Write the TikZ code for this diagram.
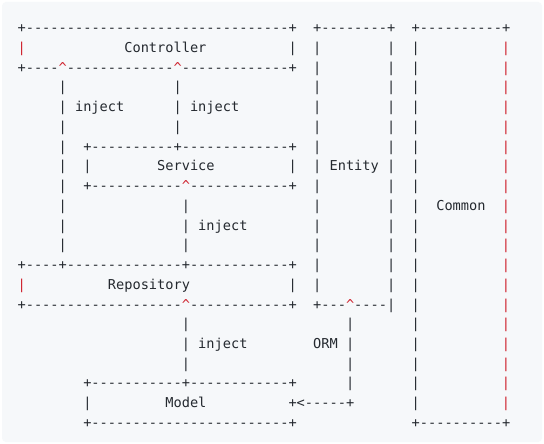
\documentclass[tikz,border=0pt]{standalone}
\usepackage{fontspec}
\newfontfamily\asciifont{DejaVu Sans Mono}[Ligatures=TeXOff]
\definecolor{ink}{HTML}{24292F}
\definecolor{hl}{HTML}{CF222E}
\definecolor{bg}{HTML}{F6F8FA}
\tikzset{txt/.style={anchor=base west,inner sep=0pt,outer sep=0pt,font=\asciifont\fontsize{13.64}{16}\selectfont}}
\newcommand\tok[5]{\node[txt,text=#1] (#2) at ({17.6+8.21*#3},{-32.8-19.73*#4}) {#5};}
\newcommand\caret{\textasciicircum}
\begin{document}
\begin{tikzpicture}[x=1pt,y=1pt]
\useasboundingbox (0,0) rectangle (544,-444);
\fill[white] (0,0) rectangle (544,-444);
\fill[bg,rounded corners=4pt] (2,-2) rectangle (542,-442);
% line 0
\tok{ink}{ctrlTop}{0}{0}{+--------------------------------+}
\tok{ink}{entTop}{36}{0}{+--------+}
\tok{ink}{comTop}{48}{0}{+----------+}
% line 1
\tok{hl}{ctrlL}{0}{1}{|}
\tok{ink}{ctrlLabel}{13}{1}{Controller}
\tok{ink}{ctrlR}{33}{1}{|}
% line 2
\tok{ink}{ctrlBa}{0}{2}{+----}
\tok{hl}{ctrlC1}{5}{2}{\caret}
\tok{ink}{ctrlBb}{6}{2}{-------------}
\tok{hl}{ctrlC2}{19}{2}{\caret}
\tok{ink}{ctrlBc}{20}{2}{-------------+}
% lines 3-11 left verticals
\foreach \k in {3,...,11} {\tok{ink}{injA\k}{5}{\k}{|}}
\foreach \k in {3,4,5} {\tok{ink}{injB\k}{19}{\k}{|}}
\tok{ink}{injAlabel}{7}{4}{inject}
\tok{ink}{injBlabel}{21}{4}{inject}
% Service box
\tok{ink}{svcTop}{8}{6}{+----------+-------------+}
\tok{ink}{svcL}{8}{7}{|}
\tok{ink}{svcLabel}{17}{7}{Service}
\tok{ink}{svcR}{33}{7}{|}
\tok{ink}{svcBa}{8}{8}{+-----------}
\tok{hl}{svcC}{20}{8}{\caret}
\tok{ink}{svcBb}{21}{8}{------------+}
\foreach \k in {9,10,11} {\tok{ink}{injC\k}{20}{\k}{|}}
\tok{ink}{injClabel}{22}{10}{inject}
% Repository box
\tok{ink}{repTop}{0}{12}{+----+--------------+------------+}
\tok{hl}{repL}{0}{13}{|}
\tok{ink}{repLabel}{11}{13}{Repository}
\tok{ink}{repR}{33}{13}{|}
\tok{ink}{repBa}{0}{14}{+-------------------}
\tok{hl}{repC}{20}{14}{\caret}
\tok{ink}{repBb}{21}{14}{------------+}
% Entity box
\foreach \k in {1,...,13} {\tok{ink}{entL\k}{36}{\k}{|}\tok{ink}{entR\k}{45}{\k}{|}}
\tok{ink}{entLabel}{38}{7}{Entity}
\tok{ink}{entBa}{36}{14}{+---}
\tok{hl}{entC}{40}{14}{\caret}
\tok{ink}{entBb}{41}{14}{----|}
% Common box
\foreach \k in {1,...,19} {\tok{ink}{comL\k}{48}{\k}{|}\tok{hl}{comR\k}{59}{\k}{|}}
\tok{ink}{comLabel}{51}{9}{Common}
\tok{ink}{comBot}{48}{20}{+----------+}
% inject to Model and ORM
\foreach \k in {15,16,17} {\tok{ink}{injD\k}{20}{\k}{|}}
\tok{ink}{injDlabel}{22}{16}{inject}
\foreach \k in {15,...,18} {\tok{ink}{orm\k}{40}{\k}{|}}
\tok{ink}{ormLabel}{36}{16}{ORM}
% Model box
\tok{ink}{mdlTop}{8}{18}{+-----------+------------+}
\tok{ink}{mdlL}{8}{19}{|}
\tok{ink}{mdlLabel}{18}{19}{Model}
\tok{ink}{mdlArrow}{33}{19}{+<-----+}
\tok{ink}{mdlBot}{8}{20}{+------------------------+}
\end{tikzpicture}
\end{document}
